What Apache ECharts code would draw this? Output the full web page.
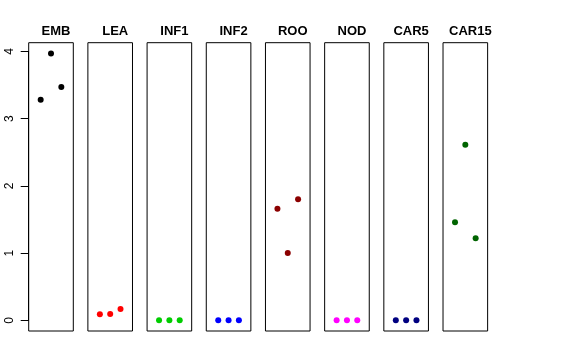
<!DOCTYPE html>
<html><head><meta charset="utf-8">
<script src="https://cdn.jsdelivr.net/npm/echarts@6/dist/echarts.min.js"></script>
<style>html,body{margin:0;padding:0;background:#fff}#c{width:576px;height:360px}</style>
</head><body><div id="c"></div>
<script>
const categories = ['EMB','LEA','INF1','INF2','ROO','NOD','CAR5','CAR15'];
const colors = ['#000000','#FF0000','#00CD00','#0000FF','#8B0000','#FF00FF','#000080','#006400'];
const xPositions = [1, 2, 3];
const EMB   = [3.28, 3.97, 3.47];
const LEA   = [0.09, 0.095, 0.17];
const INF1  = [0, 0, 0];
const INF2  = [0, 0, 0];
const ROO   = [1.66, 1.00, 1.80];
const NOD   = [0, 0, 0];
const CAR5  = [0, 0, 0];
const CAR15 = [1.46, 2.61, 1.22];
const seriesValues = [EMB, LEA, INF1, INF2, ROO, NOD, CAR5, CAR15];
const yTickLabels = [0, 1, 2, 3, 4];

(function () {
const yMin = -0.159, yMax = 4.13;
const xMin = -0.16, xMax = 4.16;
const left0 = 28.7, step = 59.19, w = 44.6, gTop = 42.7, gH = 288.3;
const pxPerUnit = gH / (yMax - yMin);

const grids = [], xAxes = [], yAxes = [], series = [], titles = [];
categories.forEach((cat, i) => {
  const l = left0 + step * i;
  grids.push({left: l, top: gTop, width: w, height: gH, show: true, borderColor: '#000', borderWidth: 1, backgroundColor: 'transparent'});
  xAxes.push({type: 'value', gridIndex: i, min: xMin, max: xMax, show: false});
  yAxes.push({type: 'value', gridIndex: i, min: yMin, max: yMax, show: false});
  series.push({
    type: 'scatter', xAxisIndex: i, yAxisIndex: i, symbolSize: 6,
    itemStyle: {color: colors[i], opacity: 1},
    data: xPositions.map((x, k) => [x, seriesValues[i][k]]),
    silent: true
  });
  titles.push({text: cat, left: l + w / 2, top: 20, textAlign: 'center',
    textStyle: {fontSize: 13, fontWeight: 'bold', color: '#000', fontFamily: 'Liberation Sans, Arial, sans-serif'}});
});
// overlay grid for the tick axis spanning exactly 0..4
const tMin = yTickLabels[0], tMax = yTickLabels[yTickLabels.length - 1];
const axTop = gTop + (yMax - tMax) * pxPerUnit;
const axH = (tMax - tMin) * pxPerUnit;
grids.push({left: left0, top: axTop, width: w, height: axH, show: false});
xAxes.push({type: 'value', gridIndex: 8, min: 0, max: 1, show: false});
yAxes.push({type: 'value', gridIndex: 8, min: tMin, max: tMax, interval: 1, position: 'left',
  splitLine: {show: false},
  axisLine: {show: true, lineStyle: {color: '#000', width: 1}},
  axisTick: {show: true, inside: false, length: 8, lineStyle: {color: '#000', width: 1}},
  axisLabel: {show: true, rotate: 90, margin: 13, color: '#000', fontSize: 12, fontFamily: 'Liberation Sans, Arial, sans-serif'}
});

const chart = echarts.init(document.getElementById('c'), null, {renderer: 'canvas'});
chart.setOption({
  animation: false,
  backgroundColor: '#fff',
  title: titles,
  grid: grids, xAxis: xAxes, yAxis: yAxes, series: series
});
})();
</script></body></html>
